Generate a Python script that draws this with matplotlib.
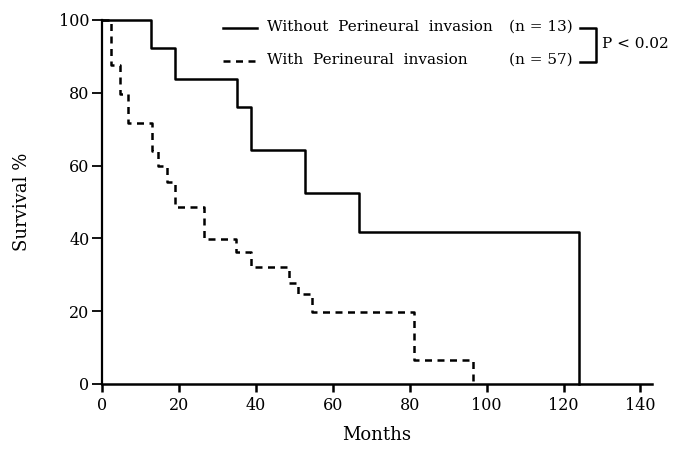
import matplotlib
matplotlib.use('Agg')
import matplotlib.pyplot as plt
from matplotlib.lines import Line2D

# Данные кривых выживаемости (месяцы, % выживших)
months_without = [0, 12.8, 19.1, 35.1, 38.8, 52.7, 66.8, 124]
surv_without   = [100, 92.3, 83.8, 76.2, 64.2, 52.5, 41.8, 0]

months_with = [0, 2.4, 4.7, 6.8, 13.0, 14.6, 17.0, 19.1, 26.6, 34.9, 38.8,
               48.7, 51.0, 54.6, 81.2, 96.5]
surv_with   = [100, 87.6, 79.6, 71.8, 64.1, 60.0, 55.6, 48.5, 39.8, 36.3, 32.2,
               27.7, 24.7, 19.9, 6.6, 0]

labels   = ['Without  Perineural  invasion', 'With  Perineural  invasion']
n_labels = ['(n = 13)', '(n = 57)']
p_label  = 'P < 0.02'

x_ticks = [0, 20, 40, 60, 80, 100, 120, 140]
y_ticks = [0, 20, 40, 60, 80, 100]

W, H = 678, 449
plt.rcParams['font.family'] = 'DejaVu Serif'

fig = plt.figure(figsize=(W / 100, H / 100), dpi=100)
ax = fig.add_axes([102 / W, 1 - 384 / H, 550 / W, 364 / H])

ax.step(months_without, surv_without, where='post', color='black', lw=1.8,
        clip_on=False)
ax.step(months_with, surv_with, where='post', color='black', lw=1.8,
        linestyle=(0, (2.8, 2.2)), clip_on=False)

ax.set_xlim(0, 143)
ax.set_ylim(0, 100)
ax.set_xticks(x_ticks)
ax.set_yticks(y_ticks)
ax.spines['top'].set_visible(False)
ax.spines['right'].set_visible(False)
ax.spines['left'].set_linewidth(1.6)
ax.spines['bottom'].set_linewidth(1.8)
ax.tick_params(axis='x', length=6, width=1.8, labelsize=11.5, pad=3)
ax.tick_params(axis='y', length=7, width=1.3, labelsize=11.5, pad=2)
ax.set_xlabel('Months', fontsize=13, labelpad=9)
ax.set_ylabel('Survival %', fontsize=13, labelpad=20)


def px(x, y):
    # пиксели -> доли фигуры
    return x / W, 1 - y / H


# Легенда вручную
for i, (lab, nl) in enumerate(zip(labels, n_labels)):
    yy = 27 + i * 33
    x0, y0 = px(223, yy + 1)
    x1, _ = px(257, yy + 1)
    ls = '-' if i == 0 else (0, (2.8, 2.2))
    fig.add_artist(Line2D([x0, x1], [y0, y0], transform=fig.transFigure,
                          color='black', lw=1.8, linestyle=ls))
    tx, ty = px(267, yy)
    fig.text(tx, ty, lab, fontsize=11, va='center', ha='left')
    nx, _ = px(573, yy)
    fig.text(nx, ty, nl, fontsize=11, va='center', ha='right')

# Скобка и значение p
bx = [px(580, 28)[0], px(596, 28)[0], px(596, 62)[0], px(580, 62)[0]]
by = [px(580, 28)[1], px(596, 28)[1], px(596, 62)[1], px(580, 62)[1]]
fig.add_artist(Line2D(bx, by, transform=fig.transFigure, color='black', lw=1.8))
px_, py_ = px(602, 44)
fig.text(px_, py_, p_label, fontsize=11, va='center', ha='left')

fig.savefig('out.png', dpi=100)
